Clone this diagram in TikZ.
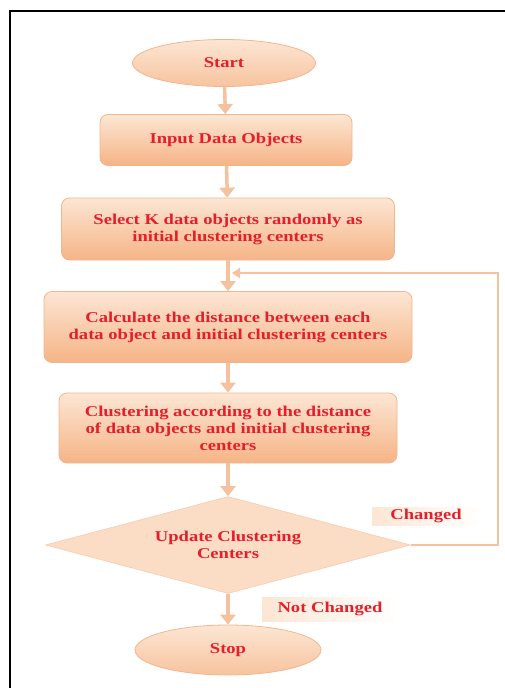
\documentclass[tikz,border=0pt]{standalone}
\usepackage{fontspec}
\setmainfont{Liberation Serif}[FakeStretch=1.24]
\usetikzlibrary{shapes.geometric,arrows.meta}

\definecolor{peach}{RGB}{252,230,212}
\definecolor{tangerine}{RGB}{245,180,134}
\definecolor{edgeor}{RGB}{242,182,142}
\definecolor{linkor}{RGB}{244,194,158}
\definecolor{txtred}{RGB}{230,30,42}

\begin{document}
\begin{tikzpicture}[
        x=1pt, y=-1pt,
        proc/.style={draw=edgeor, line width=0.8pt, rounded corners=8pt,
          top color=peach, bottom color=tangerine, text=txtred, align=center,
          font=\bfseries\fontsize{15}{17}\selectfont, inner sep=0pt},
        term/.style={ellipse, draw=edgeor, line width=0.8pt,
          top color=peach, bottom color=tangerine!80, text=txtred,
          font=\bfseries\fontsize{15}{17}\selectfont, inner sep=0pt},
        decide/.style={diamond, aspect=3.76, draw=edgeor!70, line width=0.6pt, fill=peach!80!tangerine,
          text=txtred, align=center, font=\bfseries\fontsize{15}{17}\selectfont, inner sep=0pt},
        tag/.style={left color=peach, right color=white, text=txtred,
          font=\bfseries\fontsize{15}{17}\selectfont, inner sep=0pt},
        link/.style={draw=linkor, line width=3.5pt, -{Triangle[width=15pt,length=10pt]}},
        back/.style={draw=linkor, line width=2pt, -{Triangle[width=10pt,length=8pt]}}
        ]
        \useasboundingbox (0,0) rectangle (505,688);
        \draw[line width=2.5pt] (10,688) -- (10,11) -- (505,11);

        % main flow
        \node[term, minimum width=183pt, minimum height=47pt] (start) at (224,63) {Start};
        \node[proc, minimum width=252pt, minimum height=51pt] (input) at (226,140) {Input Data Objects};
        \node[proc, minimum width=333pt, minimum height=62pt] (select) at (228,229)
          {Select K data objects randomly as\\initial clustering centers};
        \node[proc, minimum width=368pt, minimum height=71pt] (calc) at (228,327)
          {Calculate the distance between each\\data object and initial clustering centers};
        \node[proc, minimum width=338pt, minimum height=70pt] (clust) at (228,428)
          {Clustering according to the distance\\of data objects and initial clustering\\centers};
        \node[decide, minimum width=365pt, minimum height=97pt] (update) at (228,545)
          {Update Clustering\\Centers};
        \node[term, minimum width=186pt, minimum height=50pt] (stop) at (228,650) {Stop};

        % branch labels
        \node[tag, minimum width=108pt, minimum height=18pt] (changed) at (426,516) {Changed};
        \node[tag, minimum width=136pt, minimum height=24pt] (notchanged) at (330,609) {Not Changed};

        \coordinate (merge) at (232,273);

        \draw[link] (start) -- (input);
        \draw[link] (input) -- (select);
        \draw[link] (select) -- (calc);
        \draw[link] (calc) -- (clust);
        \draw[link] (clust) -- (update);
        \draw[link] (update) -- (stop);
        \draw[back] (update.east) -- ++(87,0) |- (merge);
      \end{tikzpicture}
\end{document}
